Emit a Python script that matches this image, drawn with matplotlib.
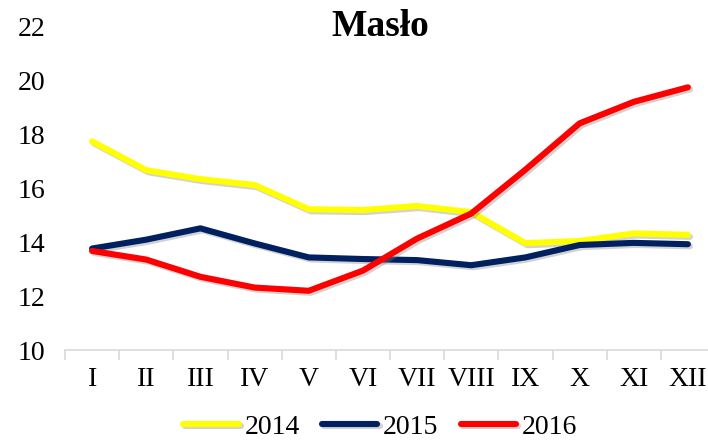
import matplotlib
matplotlib.use("Agg")
import matplotlib.pyplot as plt
import matplotlib.patheffects as pe
import numpy as np

# dane: cena masła wg miesięcy
miesiace = ["I", "II", "III", "IV", "V", "VI", "VII", "VIII", "IX", "X", "XI", "XII"]
rok_2014 = [17.75, 16.68, 16.35, 16.13, 15.23, 15.2, 15.35, 15.12, 13.97, 14.05, 14.33, 14.28]
rok_2015 = [13.77, 14.1, 14.52, 13.96, 13.44, 13.38, 13.34, 13.15, 13.44, 13.9, 13.98, 13.93]
rok_2016 = [13.68, 13.36, 12.72, 12.32, 12.2, 12.95, 14.14, 15.07, 16.7, 18.42, 19.22, 19.76]
lata = ["2014", "2015", "2016"]
kolory = ["#FFFF00", "#002060", "#FF0000"]

plt.rcParams['font.family'] = ['Liberation Serif', 'DejaVu Serif']

fig = plt.figure(figsize=(7.08, 4.41), dpi=100)
ax = fig.add_axes([65/708, 1 - 350/441, 650/708, 323/441])

x = np.arange(len(miesiace))
cien = [pe.SimpleLineShadow(offset=(1.5, -1.5), shadow_color='gray', alpha=0.35), pe.Normal()]
for seria, nazwa, kol in zip([rok_2014, rok_2015, rok_2016], lata, kolory):
    ax.plot(x, seria, color=kol, lw=4.4, label=nazwa, solid_capstyle='round',
            solid_joinstyle='round', path_effects=cien)

ax.set_ylim(10, 22)
ax.set_yticks(np.arange(10, 23, 2))
ax.set_xlim(-0.5, len(miesiace) - 0.5)
ax.set_xticks(x)
ax.set_xticklabels(miesiace)
ax.set_xticks(np.arange(-0.5, len(miesiace)), minor=True)
ax.tick_params(axis='x', which='major', length=0, pad=12, labelsize=20)
ax.tick_params(axis='x', which='minor', length=7, color='#d9d9d9', width=1.2)
ax.tick_params(axis='y', length=0, pad=14, labelsize=20)
for s in ['left', 'right', 'top']:
    ax.spines[s].set_visible(False)
ax.spines['bottom'].set_color('#d9d9d9')
ax.spines['bottom'].set_linewidth(1.2)

fig.text(0.537, 1 - 27/441, "Masło", ha='center', va='center', fontsize=27, fontweight='bold')

h, l = ax.get_legend_handles_labels()
fig.legend(h, l, loc='center', bbox_to_anchor=(0.537, 1 - 427/441), ncol=3, frameon=False,
           fontsize=20, handlelength=2.0, handletextpad=0.2, columnspacing=0.8)

fig.savefig("out.png", dpi=100)
